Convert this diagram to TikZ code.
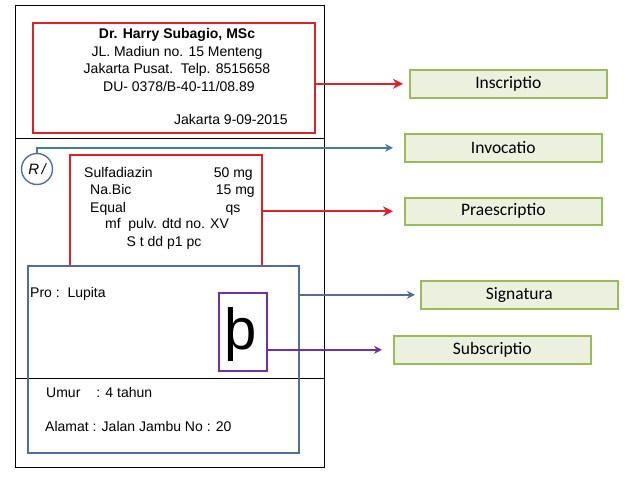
\documentclass[tikz,border=0pt]{standalone}
\usepackage{fontspec}
\setmainfont{Liberation Sans}
\newfontfamily\lblfont{Carlito}
\usetikzlibrary{positioning, arrows.meta}
\definecolor{rxred}{RGB}{226,30,38}
\definecolor{rxteal}{RGB}{68,126,156}
\definecolor{rxblue}{RGB}{80,110,155}
\definecolor{rxpurple}{RGB}{112,48,160}
\definecolor{lblfill}{RGB}{235,241,222}
\definecolor{lbldraw}{RGB}{155,187,89}

\begin{document}
\begin{tikzpicture}[x=1pt, y=-1pt,
    sheet/.style={draw=black, line width=0.9pt, anchor=north west, inner sep=0pt},
    part/.style={draw=#1, line width=1.6pt, anchor=north west, inner sep=0pt},
    lbl/.style={draw=lbldraw, fill=lblfill, line width=1.6pt, anchor=north west,
                minimum width=197pt, minimum height=28pt, inner sep=0pt,
                font=\lblfont\fontsize{17.5}{20}\selectfont},
    txt/.style={font=\fontsize{14}{17.7}\selectfont, inner sep=0pt},
    lnk/.style={-{Stealth[length=10pt, width=10pt]}, draw=#1, line width=2.2pt},
    lnks/.style={-{Stealth[length=8pt, width=8pt]}, draw=#1, line width=1.7pt}
  ]
  \useasboundingbox (0,0) rectangle (638,479);

  % the prescription sheet
  \node[sheet, minimum width=309pt, minimum height=462pt] (blank) at (15,5) {};
  \draw[black, line width=0.9pt] (15,138) coordinate (cutA) -- (324,138) coordinate (cutB);
  \draw[black, line width=0.9pt] (15,378) coordinate (cutC) -- (324,378) coordinate (cutD);

  % parts of the sheet
  \node[part=rxred, minimum width=282pt, minimum height=110pt] (ins) at (32,22) {};
  \node[part=rxred, minimum width=192pt, minimum height=111pt] (pres) at (69,154) {};
  \node[part=rxblue, minimum width=271pt, minimum height=187pt] (sig) at (27,265) {};
  \node[part=rxpurple, minimum width=48pt, minimum height=78pt] (sub) at (218,292) {};
  \node[circle, draw=rxblue, line width=1.4pt, minimum size=31pt, inner sep=0pt,
        font=\fontsize{15}{15}\selectfont\itshape] (rx) at (37,169) {R\,/};

  % texts on the sheet
  \node[txt, align=center] (doc) at (177,60)
    {\textbf{Dr. Harry Subagio, MSc}\\JL. Madiun no. 15 Menteng\\Jakarta Pusat.\ \ Telp. 8515658\\\ DU- 0378/B-40-11/08.89};
  \node[txt, anchor=base] (date) at (231,124) {Jakarta 9-09-2015};
  \node[txt, anchor=base west] (d1) at (84,177) {Sulfadiazin};
  \node[txt, anchor=base east] (q1) at (253,177) {50 mg};
  \node[txt, anchor=base west] (d2) at (90,194) {Na.Bic};
  \node[txt, anchor=base east] (q2) at (255,194) {15 mg};
  \node[txt, anchor=base west] (d3) at (90,212) {Equal};
  \node[txt, anchor=base] (q3) at (233,212) {qs};
  \node[txt, anchor=base] (mf) at (167,228) {mf\ \ pulv. dtd no. XV};
  \node[txt, anchor=base] (use) at (164,246) {S t dd p1 pc};
  \node[txt, anchor=base west] (pro) at (30,297) {Pro :\ \ Lupita};
  \node[txt, anchor=base west] (age) at (46,397) {Umur\hspace{16pt}: 4 tahun};
  \node[txt, anchor=base west] (addr) at (45,431) {Alamat : Jalan Jambu No : 20};
  \node[inner sep=0pt, font=\fontsize{58}{58}\selectfont] (thorn) at (241,335) {þ};

  % part names
  \node[lbl] (inscr) at (409,69) {Inscriptio};
  \node[lbl] (invoc) at (404,133) {Invocatio};
  \node[lbl, minimum height=27pt] (praes) at (404,197) {Praescriptio};
  \node[lbl] (signa) at (420,280) {Signatura};
  \node[lbl] (subsc) at (393,335) {Subscriptio};

  % links
  \draw[lnk=rxred, shorten >=6pt] (ins.east |- inscr.west) -- (inscr.west);
  \draw[lnks=rxteal, shorten >=11pt] (rx.north) |- (invoc.west);
  \draw[lnk=rxred, shorten >=11pt] (pres.east |- praes.west) -- (praes.west);
  \draw[lnks=rxblue, shorten >=5pt] (sig.east |- signa.west) -- (signa.west);
  \draw[lnks=rxpurple, shorten >=11pt] (sub.east |- subsc.west) -- (subsc.west);
\end{tikzpicture}
\end{document}
